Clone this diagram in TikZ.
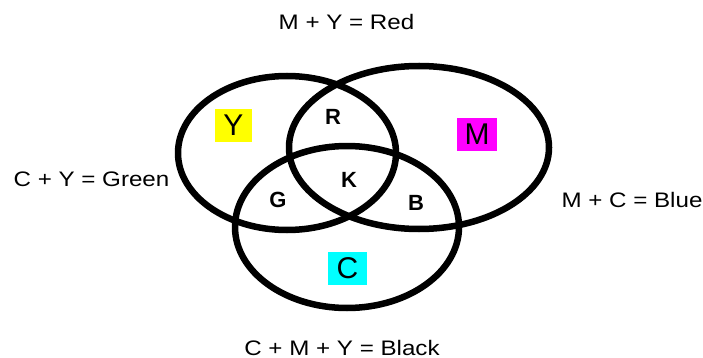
\documentclass[tikz,border=0pt]{standalone}
\usepackage{fontspec}
\setmainfont{Liberation Sans}
\newfontfamily\mixfont[FakeStretch=1.15]{Liberation Sans}
\usetikzlibrary{calc}
\definecolor{inkcyan}{HTML}{00FFFF}
\definecolor{inkmagenta}{HTML}{FF00FF}
\definecolor{inkyellow}{HTML}{FFFF00}

\begin{document}
\begin{tikzpicture}[x=1pt,y=-1pt,line cap=round,line join=round,
  rim/.style={line width=6.5pt},
  mixtext/.style={font=\fontsize{21}{24}\selectfont\mixfont,anchor=base,inner sep=0pt},
  zone/.style={font=\fontsize{22}{25}\selectfont\bfseries,anchor=base,inner sep=0pt},
  inkbox/.style={font=\fontsize{30}{33}\selectfont,inner sep=0pt,minimum height=33pt}]
  \useasboundingbox (0,0) rectangle (703,358);
  % circles
  \draw[rim] (287,153) ellipse[x radius=109,y radius=77];
  \draw[rim] (419,147.5) ellipse[x radius=130,y radius=81.5];
  \draw[rim] (347,227) ellipse[x radius=112,y radius=81];
  % primaries
  \node[inkbox,fill=inkyellow,minimum width=37pt] (yel) at (233.5,125.5) {Y};
  \node[inkbox,fill=inkmagenta,minimum width=40pt] (mag) at (477,134.5) {M};
  \node[inkbox,fill=inkcyan,minimum width=39pt] (cya) at (347.5,268.5) {C};
  % overlaps
  \foreach \name/\x/\y in {R/333/125,K/349/187,G/278/207,B/416/210}{
    \node[zone] (zone\name) at (\x,\y) {\name};
  }
  % labels
  \node[mixtext] (red) at (346.5,30) {M + Y = Red};
  \node[mixtext] (green) at (91.5,186) {C + Y = Green};
  \node[mixtext] (blue) at (632,207) {M + C = Blue};
  \node[mixtext] (black) at (342,355) {C + M + Y = Black};
\end{tikzpicture}
\end{document}
